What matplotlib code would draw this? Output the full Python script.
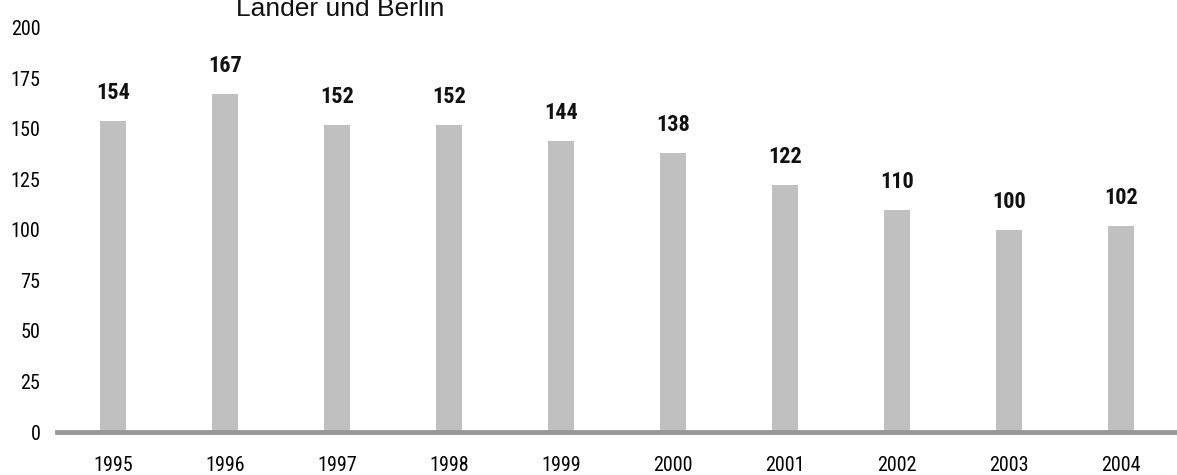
import matplotlib
matplotlib.use("Agg")
import matplotlib.pyplot as plt
from matplotlib import font_manager

years = ["1995", "1996", "1997", "1998", "1999", "2000", "2001", "2002", "2003", "2004"]
values = [154, 167, 152, 152, 144, 138, 122, 110, 100, 102]
yticks = [0, 25, 50, 75, 100, 125, 150, 175, 200]
title = "Lander und Berlin"

available = {f.name for f in font_manager.fontManager.ttflist}
narrow = next((n for n in ("Roboto Condensed", "PT Sans Narrow", "Archivo Narrow")
               if n in available), "DejaVu Sans")

fig = plt.figure(figsize=(11.77, 4.75), dpi=100)
ax = fig.add_axes([0.0484, 0.0905, 0.9516, 0.851])

x = range(len(years))
ax.bar(x, values, width=0.24, color="#c0c0c0", zorder=2)

# value labels above each bar
for xi, v in zip(x, values):
    ax.text(xi, v + 8.5, str(v), ha="center", va="bottom", fontsize=16,
            fontweight="bold", family=narrow, color="#111111")

ax.set_xlim(-0.5, len(years) - 0.5)
ax.set_ylim(0, 200)
ax.set_yticks(yticks)
ax.set_yticklabels([str(t) for t in yticks], family=narrow, fontsize=14.5)
ax.set_xticks(list(x))
ax.set_xticklabels(years, family=narrow, fontsize=14.5)
ax.tick_params(axis="y", length=0, pad=12)
ax.tick_params(axis="x", length=0, pad=17)

for side in ("top", "right", "left"):
    ax.spines[side].set_visible(False)
ax.spines["bottom"].set_color("#999999")
ax.spines["bottom"].set_linewidth(3.5)
ax.spines["bottom"].set_zorder(3)

fig.text(236 / 1177, 1 - 16 / 475, title, ha="left", va="baseline",
         fontsize=19, family="Liberation Sans", color="#111111")

fig.savefig("out.png", dpi=100)
